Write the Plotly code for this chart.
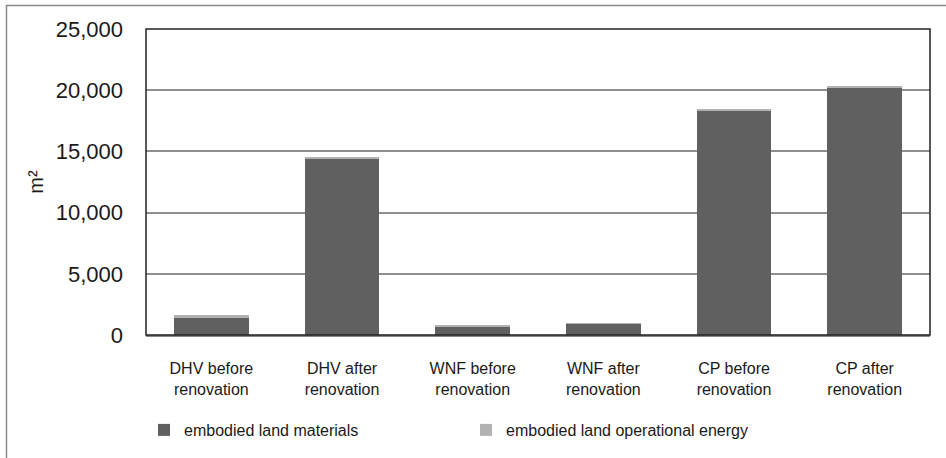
import plotly.graph_objects as go

categories = [
    "DHV before<br>renovation",
    "DHV after<br>renovation",
    "WNF before<br>renovation",
    "WNF after<br>renovation",
    "CP before<br>renovation",
    "CP after<br>renovation",
]
materials = [1450, 14450, 670, 930, 18380, 20260]
operational_energy = [160, 50, 120, 25, 40, 40]

y_ticks = [0, 5000, 10000, 15000, 20000, 25000]
y_tick_labels = ["0", "5,000", "10,000", "15,000", "20,000", "25,000"]

DARK = "#606060"
LIGHT = "#b2b2b2"
SANS = "Liberation Sans, Arial, sans-serif"

fig = go.Figure()
fig.add_trace(go.Bar(
    x=categories, y=materials, name="embodied land materials",
    marker=dict(color=DARK, line=dict(width=0)), legend="legend",
))
fig.add_trace(go.Bar(
    x=categories, y=operational_energy, name="embodied land operational energy",
    marker=dict(color=LIGHT, line=dict(width=0)), legend="legend2",
))

W, H = 946, 458
L, R, T, B = 146, 16, 29, 123
pw, ph = W - L - R, H - T - B

legend_style = dict(
    orientation="h", yanchor="middle", xanchor="left",
    font=dict(family=SANS, size=16, color="#1a1a1a"),
    itemwidth=30, bgcolor="rgba(0,0,0,0)",
)

fig.update_layout(
    barmode="stack",
    bargap=0.43,
    width=W,
    height=H,
    margin=dict(l=L, r=R, t=T, b=B, pad=0, autoexpand=False),
    paper_bgcolor="white",
    plot_bgcolor="white",
    font=dict(family=SANS, size=16, color="#1a1a1a"),
    showlegend=True,
    legend=dict(legend_style, x=(144 - L) / pw, y=-95 / ph),
    legend2=dict(legend_style, x=(466 - L) / pw, y=-95 / ph),
    shapes=[
        # outer chart frame, only its left and top edges fall inside the page
        dict(type="rect", xref="paper", yref="paper",
             x0=(6.5 - L) / pw, x1=(W + 20 - L) / pw,
             y0=-(B + 20) / ph, y1=(ph + T - 5.5) / ph,
             line=dict(color="#8a8a8a", width=1.5), fillcolor="rgba(0,0,0,0)",
             layer="below"),
        dict(type="rect", xref="paper", yref="paper",
             x0=0, x1=1, y0=0, y1=1,
             line=dict(color="#222222", width=1.5), fillcolor="rgba(0,0,0,0)",
             layer="above"),
    ],
)

fig.update_xaxes(
    showgrid=False, showline=True, linecolor="#888888", linewidth=2,
    ticks="", ticklabelstandoff=18,
    tickfont=dict(family=SANS, size=16, color="#1a1a1a"),
)
fig.update_yaxes(
    range=[0, 25000], tickvals=y_ticks, ticktext=y_tick_labels,
    showgrid=True, gridcolor="#8f8f8f", gridwidth=1.5,
    zeroline=False, showline=False, ticks="",
    tickfont=dict(family=SANS, size=22, color="#1a1a1a"),
    ticklabelstandoff=22,
    title=dict(text="m²", font=dict(family=SANS, size=20), standoff=6),
)

# drop the default 8px body margin so the figure fills the window
fig.write_html(
    "out.html",
    config={"displayModeBar": False},
    post_script="document.body.style.margin = '0';",
)
